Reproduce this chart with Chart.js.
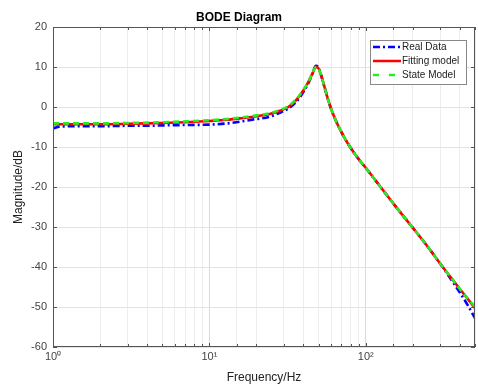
<!DOCTYPE html>
<html>
<head>
<meta charset="utf-8">
<script src="https://cdn.jsdelivr.net/npm/chart.js@4"></script>
<style>
  body { margin: 0; background: #fff; }
</style>
</head>
<body>
<canvas id="bode" width="478" height="386"></canvas>
<script>
// frequency points (Hz)
const freq = [1, 1.1, 1.5, 2, 3, 4, 5, 7, 10, 13, 16, 20, 24, 28, 32, 36, 40, 43, 45.5, 48,
  50, 52, 54.5, 57.5, 61, 66, 72, 80, 90, 100, 120, 150, 200, 250, 300, 350, 400, 450, 500];

// magnitude in dB
const realData = [-5.4, -4.9, -4.8, -4.8, -4.7, -4.7, -4.6, -4.5, -4.4, -4.1, -3.6, -3.0, -2.5, -1.5, -0.4, 1.3, 3.8, 6.0, 8.2, 10.3,
  9.8, 7.8, 5.0, 1.8, -1.2, -4.3, -7.2, -10.2, -13.0, -15.2, -19.2, -24.1, -30.2, -35.0, -39.2, -43.0, -46.4, -49.6, -52.8];
const fittingModel = [-4.3, -4.3, -4.3, -4.3, -4.2, -4.1, -4.0, -3.8, -3.5, -3.2, -2.8, -2.3, -1.8, -1.0, 0.0, 1.8, 4.2, 6.3, 8.3, 10.0,
  9.6, 7.8, 5.0, 1.8, -1.2, -4.3, -7.2, -10.2, -13.0, -15.2, -19.2, -24.1, -30.2, -35.0, -39.2, -42.6, -45.5, -48.0, -50.3];
const stateModel = [-4.1, -4.1, -4.1, -4.1, -4.0, -3.9, -3.8, -3.6, -3.3, -3.0, -2.6, -2.1, -1.6, -0.8, 0.2, 2.0, 4.3, 6.3, 8.3, 10.0,
  9.6, 7.8, 5.0, 1.8, -1.2, -4.3, -7.2, -10.2, -13.0, -15.2, -19.2, -24.1, -30.2, -35.0, -39.2, -42.6, -45.5, -47.9, -50.0];

const seriesNames = ['Real Data', 'Fitting model', 'State Model'];
const seriesColors = ['#0000ff', '#ff0000', '#22ee22'];
const seriesDash = [[7, 3, 2, 3], [], [6, 4]];

const yMin = -60, yMax = 20, yStep = 10;
const xMin = 1, xMax = 500;
const sup = ['\u2070', '\u00b9', '\u00b2', '\u00b3'];

function points(vals) {
  return freq.map((f, i) => ({ x: f, y: vals[i] }));
}

function isDecade(v) {
  const e = Math.log10(v);
  return Math.abs(e - Math.round(e)) < 1e-9;
}

Chart.defaults.font.family = "'Liberation Sans', Arial, sans-serif";

// box, inward tick marks and the legend, drawn in MATLAB style
const matlabFrame = {
  id: 'matlabFrame',
  afterDraw(chart) {
    const { ctx, chartArea: a, scales } = chart;
    const x = scales.x, y = scales.y;
    ctx.save();
    ctx.strokeStyle = '#555';
    ctx.lineWidth = 1;
    ctx.strokeRect(a.left + 0.5, a.top + 0.5, a.right - a.left - 1, a.bottom - a.top - 1);
    ctx.beginPath();
    x.ticks.forEach(t => {
      const px = Math.round(x.getPixelForValue(t.value)) + 0.5;
      const len = isDecade(t.value) ? 4 : 3;
      ctx.moveTo(px, a.bottom); ctx.lineTo(px, a.bottom - len);
      ctx.moveTo(px, a.top); ctx.lineTo(px, a.top + len);
    });
    y.ticks.forEach(t => {
      const py = Math.round(y.getPixelForValue(t.value)) + 0.5;
      ctx.moveTo(a.left, py); ctx.lineTo(a.left + 4, py);
      ctx.moveTo(a.right, py); ctx.lineTo(a.right - 4, py);
    });
    ctx.stroke();

    // legend
    const lx = 370, ly = 40, lw = 96, lh = 44;
    ctx.fillStyle = '#fff';
    ctx.fillRect(lx, ly, lw, lh);
    ctx.strokeStyle = '#888';
    ctx.strokeRect(lx + 0.5, ly + 0.5, lw, lh);
    ctx.font = "10px 'Liberation Sans', Arial, sans-serif";
    ctx.textBaseline = 'middle';
    seriesNames.forEach((name, i) => {
      const yy = ly + 7 + i * 14;
      ctx.strokeStyle = seriesColors[i];
      ctx.lineWidth = 2.5;
      ctx.setLineDash(i === 2 ? [6, 10] : seriesDash[i]);
      ctx.beginPath();
      ctx.moveTo(lx + 3, yy);
      ctx.lineTo(lx + 31, yy);
      ctx.stroke();
      ctx.setLineDash([]);
      ctx.fillStyle = '#222';
      ctx.fillText(name, lx + 32, yy);
    });
    ctx.restore();
  }
};

const datasets = [realData, fittingModel, stateModel].map((vals, i) => ({
  label: seriesNames[i],
  data: points(vals),
  borderColor: seriesColors[i],
  borderWidth: 2.6,
  borderDash: seriesDash[i],
  pointRadius: 0,
  cubicInterpolationMode: 'monotone',
  fill: false,
  order: 3 - i
}));

new Chart(document.getElementById('bode'), {
  type: 'line',
  data: { datasets: datasets },
  plugins: [matlabFrame],
  options: {
    responsive: false,
    animation: false,
    layout: { padding: { left: 0, right: 0, top: 0, bottom: 0 } },
    plugins: {
      legend: { display: false },
      tooltip: { enabled: false },
      title: {
        display: true,
        text: 'BODE Diagram',
        color: '#000',
        font: { size: 12, weight: 'bold' },
        padding: { top: 10, bottom: 2.6 }
      }
    },
    scales: {
      x: {
        type: 'logarithmic',
        min: xMin,
        max: xMax,
        afterFit: s => { s.height = 39; },
        border: { display: false },
        grid: {
          drawTicks: false,
          color: c => (c.tick && isDecade(c.tick.value)) ? '#dadada' : '#ededed'
        },
        ticks: {
          autoSkip: false,
          maxRotation: 0,
          padding: 3,
          color: '#444',
          font: { size: 11 },
          callback: v => isDecade(v) ? '10' + sup[Math.round(Math.log10(v))] : ''
        },
        title: {
          display: true,
          text: 'Frequency/Hz',
          color: '#222',
          font: { size: 12 },
          padding: { top: 0, bottom: 1 }
        }
      },
      y: {
        min: yMin,
        max: yMax,
        afterFit: s => { s.width = 53; },
        border: { display: false },
        grid: { drawTicks: false, color: '#e3e3e3' },
        ticks: {
          stepSize: yStep,
          padding: 6,
          color: '#444',
          font: { size: 11 }
        },
        title: {
          display: true,
          text: 'Magnitude/dB',
          color: '#222',
          font: { size: 12 },
          padding: { top: 11, bottom: 0 }
        }
      }
    }
  }
});
</script>
</body>
</html>
